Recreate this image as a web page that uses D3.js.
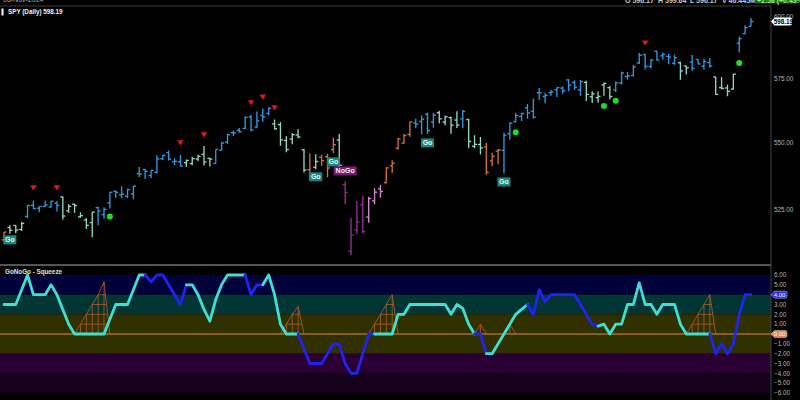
<!DOCTYPE html>
<html><head><meta charset="utf-8">
<script src="https://cdn.jsdelivr.net/npm/d3@7"></script>
<style>html,body{margin:0;padding:0;background:#000;overflow:hidden}svg{display:block}</style>
</head><body>
<svg id="c" width="800" height="400"></svg>
<script>
// ---------------- DATA (dividend-adjusted daily bars, as plotted) ----------------
const dates = [
"May 9","May 10","May 13","May 14","May 15","May 16","May 17","May 20","May 21","May 22","May 23","May 24","May 28","May 29","May 30","May 31",
"Jun 3","Jun 4","Jun 5","Jun 6","Jun 7","Jun 10","Jun 11","Jun 12","Jun 13","Jun 14","Jun 17","Jun 18","Jun 20","Jun 21","Jun 24","Jun 25","Jun 26","Jun 27","Jun 28",
"Jul 1","Jul 2","Jul 3","Jul 5","Jul 8","Jul 9","Jul 10","Jul 11","Jul 12","Jul 15","Jul 16","Jul 17","Jul 18","Jul 19","Jul 22","Jul 23","Jul 24","Jul 25","Jul 26","Jul 29","Jul 30","Jul 31",
"Aug 1","Aug 2","Aug 5","Aug 6","Aug 7","Aug 8","Aug 9","Aug 12","Aug 13","Aug 14","Aug 15","Aug 16","Aug 19","Aug 20","Aug 21","Aug 22","Aug 23","Aug 26","Aug 27","Aug 28","Aug 29","Aug 30",
"Sep 3","Sep 4","Sep 5","Sep 6","Sep 9","Sep 10","Sep 11","Sep 12","Sep 13","Sep 16","Sep 17","Sep 18","Sep 19","Sep 20","Sep 23","Sep 24","Sep 25","Sep 26","Sep 27","Sep 30",
"Oct 1","Oct 2","Oct 3","Oct 4","Oct 7","Oct 8","Oct 9","Oct 10","Oct 11","Oct 14","Oct 15","Oct 16","Oct 17","Oct 18","Oct 21","Oct 22","Oct 23","Oct 24","Oct 25","Oct 28","Oct 29","Oct 30","Oct 31",
"Nov 1","Nov 4","Nov 5","Nov 6","Nov 7","Nov 8"];

const open = [
513.98,518.41,519.16,517.71,522.43,526.48,525.41,526.17,525.88,527.25,529.56,524.45,526.87,522.28,521.12,520.19,
525.62,523.06,527.37,531.58,530.26,529.78,530.67,538.23,539.75,537.48,538.68,543.76,546.04,542.70,542.63,542.29,541.99,543.67,545.46,
543.93,542.00,546.99,550.07,553.74,554.56,555.37,559.74,555.93,560.33,561.17,557.10,556.81,550.72,551.30,552.84,547.16,539.65,540.58,544.32,544.56,547.28,
550.87,534.05,509.94,517.52,526.77,522.21,528.11,532.51,534.83,541.15,547.80,549.72,553.03,557.45,558.07,560.86,557.83,561.48,557.79,559.51,558.61,559.07,
558.77,548.50,549.19,548.24,542.95,546.66,547.00,553.31,558.01,560.04,563.40,562.04,569.31,567.84,569.34,570.48,571.14,574.38,573.39,570.42,
573.40,567.71,567.36,572.35,571.30,570.42,573.16,575.77,576.05,581.22,584.59,579.78,585.91,584.07,583.85,581.05,581.26,579.98,581.51,582.58,579.85,581.29,575.56,
571.32,571.18,570.74,589.20,593.08,596.17];
const high = [
516.81,519.24,519.27,520.43,526.68,528.12,526.12,528.16,528.12,527.98,529.67,526.87,527.11,523.91,521.80,524.10,
525.91,525.75,531.29,532.02,533.49,532.59,533.61,540.72,539.93,539.41,545.13,545.22,546.88,543.95,545.25,543.50,544.54,545.26,548.58,
544.18,547.31,550.13,553.35,554.55,555.48,559.97,560.63,561.97,563.14,563.46,558.81,557.82,552.38,553.57,555.04,547.47,545.76,545.49,545.35,545.64,551.80,
553.17,535.29,521.88,528.05,529.89,529.59,532.81,534.03,540.58,543.26,551.66,553.32,557.91,559.14,560.41,561.48,561.39,562.21,560.36,559.95,561.98,562.50,
559.11,552.73,552.10,549.90,546.01,547.45,553.66,557.70,561.33,561.41,564.88,566.99,571.18,569.31,570.33,571.36,571.89,574.71,574.22,574.38,
574.06,569.90,569.80,573.36,571.96,573.78,577.71,577.58,580.33,585.27,584.90,582.83,586.12,585.39,584.85,584.50,581.71,580.06,584.46,582.71,582.91,583.32,575.63,
575.55,572.50,576.74,591.93,596.65,599.64];
const low = [
513.31,516.19,516.34,517.16,521.78,525.14,523.92,525.77,525.67,524.20,521.32,523.71,523.71,521.97,517.93,514.96,
519.20,521.56,525.33,529.28,529.14,529.17,528.65,536.90,536.19,536.45,538.21,543.33,543.08,541.32,540.92,540.74,541.33,542.91,541.25,
540.82,541.95,546.95,549.42,552.49,553.82,555.07,554.13,555.45,557.93,560.40,554.91,548.73,546.21,549.32,551.58,538.59,535.75,539.79,541.02,536.82,545.88,
537.73,526.90,508.57,516.17,516.35,520.14,526.86,529.25,534.58,538.42,547.18,549.56,552.16,555.63,553.03,553.28,555.59,557.35,556.62,553.34,555.48,555.44,
547.81,547.76,545.40,537.74,540.98,541.68,538.26,551.04,557.75,558.20,559.09,559.13,566.38,565.17,568.10,567.60,568.91,569.90,570.42,568.08,
566.00,565.27,565.49,568.10,566.63,569.53,572.55,574.49,575.91,580.73,578.54,578.96,582.16,582.58,580.60,580.38,574.42,576.57,578.08,580.52,578.43,579.29,568.44,
570.62,567.89,570.52,585.39,593.00,596.17];
const close = [
516.77,517.44,517.51,519.90,526.38,525.29,526.05,526.66,527.96,526.43,522.56,526.04,526.41,522.70,519.21,523.97,
524.40,524.99,531.27,531.26,530.61,532.26,533.55,537.96,539.05,539.38,543.70,545.09,543.60,542.81,541.04,543.13,543.81,544.67,542.52,
543.64,547.31,549.76,552.94,553.58,554.12,559.62,554.78,558.29,559.83,563.16,555.24,550.96,547.29,552.95,552.08,539.53,536.71,542.74,543.06,540.30,549.11,
541.31,531.20,515.68,520.45,516.96,528.95,531.29,531.57,540.34,542.05,551.37,552.61,557.91,557.00,558.92,554.52,560.43,559.09,559.86,556.60,556.65,561.98,
550.38,549.25,547.91,538.66,544.71,547.09,552.72,557.39,560.31,561.14,561.37,559.70,569.28,568.25,569.67,571.30,570.04,572.30,571.47,573.76,
568.62,568.86,567.82,572.98,567.80,573.17,577.14,575.95,579.58,584.32,579.78,582.30,582.35,584.59,583.63,583.32,577.99,579.24,579.04,580.83,581.77,580.01,568.64,
571.04,569.81,576.70,591.04,595.61,598.19];

// GoNoGo trend per bar: G=Go, W=weak Go, A=amber, P=weak NoGo, N=NoGo
const trend = ("A"+"WWW"+"GGGGGG"+"WWWWWW"+"GGGGGGGGGGGGGGG"+"WWWWW"+"GGGGGGGGGG"+"WWWWWW"+
  "A"+"W"+"AAA"+"W"+"NNNN"+"PPP"+"AAAAA"+"GGGG"+"WWWW"+"G"+"WWW"+"AAA"+
  "GGGGGGGGGGGGGG"+"WWWWW"+"GGGGGGGGGGG"+"WW"+"GGGG"+"WWWW"+"GGG").split("");

// oscillator values per bar
const osc = [
3,3,3,4.5,6,4,4,4,5,4,
2.5,1,0,0,0,0,0,0,1.5,3,
3,3,4.5,6,6,5.3,6,6,5,4,
3,5,5,4,2.5,1.3,3.5,5,6,6,
6,6,4,5,5,6,4,1,0,0,
0,-1.5,-3,-3,-3,-2,-1,-1,-3,-4,
-4,-2,0,0,0,0,0,2,2,3,
3,3,3,3,3,3,2,3,2.6,1,
0,0,-2,-2,-1,0,1,2,2.5,3,
2,4.5,3.3,4,4,4,4,4,3,2,
1,0.8,1,0,1,1,3,3,5.2,3,
3,2,3,3,3,1,0,0,0,0,
0,-2,-1,-2,-1,2,4,4];
// heavy-volume (blue) oscillator segments, 1 = blue
const oscHeavy = ("0000000000000000000000000"+"1111111"+"0000000000"+"111"+"000000"+
  "1111111111111"+"00000000000000000"+"11"+"0000000"+"111111111111"+
  "0000000000000000000"+"1111111").split("").map(Number);

// squeeze grids: start bar and heights
const sqStart = [12, 47, 62, 80, 85, 116];
const sqHeights = [[0,1,2,3,4,5.3,0],[0,1,2,2.8,0],[0,1,2,3,4,0],[0,1,0],[0,1,0],[0,1,2,3,4,0]];

// markers (bar index, price level)
const redIdx = [5, 9, 30, 34, 42, 44, 46, 109];
const redPrice = [532.9, 532.9, 549.8, 552.9, 565.3, 567.6, 563.3, 589.3];
const dotIdx = [18, 87, 102, 104, 125];
const dotPrice = [522.4, 553.9, 564.1, 566.1, 581.2];
const goIdx = [1, 53, 56, 72, 85];
const goPrice = [514.0, 537.0, 542.6, 549.8, 535.1];
const noGoIdx = [58];
const noGoPrice = [539.2];

const priceTicks = [525, 550, 575, 600];
const oscTicks = [6,5,4,3,2,1,0,-1,-2,-3,-4,-5,-6];
const bands = [[6,4,"#00003a"],[4,2,"#033535"],[2,-2,"#313100"],[-2,-4,"#2a0034"],[-4,-6,"#15001b"]];

// ---------------- CHART ----------------
const svg = d3.select("#c");
const W = 800, AX = 771;
const font = "'Liberation Sans', Arial, sans-serif";
svg.append("rect").attr("width", W).attr("height", 400).attr("fill", "#000");

const x = d3.scalePoint().domain(dates).range([4, 751]);
const yP = d3.scaleLog().domain([500, 600]).range([279.6, 17.1]);
const yO = d3.scaleLinear().domain([-6, 6]).range([393, 275]);
const fmt = d3.format(".2f");

const defs = svg.append("defs");
defs.append("clipPath").attr("id","cp").append("rect").attr("x",0).attr("y",7).attr("width",AX).attr("height",257);
defs.append("clipPath").attr("id","co").append("rect").attr("x",0).attr("y",266).attr("width",AX).attr("height",134);

// ---- oscillator panel background bands
const gO = svg.append("g").attr("clip-path","url(#co)");
gO.selectAll("rect.band").data(bands).join("rect")
  .attr("x",0).attr("width",AX)
  .attr("y",d=>yO(d[0])).attr("height",d=>yO(d[1])-yO(d[0]))
  .attr("fill",d=>d[2]);
gO.append("line").attr("x1",0).attr("x2",AX).attr("y1",yO(0)).attr("y2",yO(0))
  .attr("stroke","#e58a3c").attr("stroke-width",1);

// squeeze grids
const sqColor = "#c8692a";
sqStart.forEach((s,j)=>{
  const h = sqHeights[j];
  const pts = h.map((v,k)=>[x(dates[s+k]), yO(v)]);
  const g = gO.append("g").attr("stroke",sqColor).attr("stroke-width",0.8).attr("fill","none").attr("opacity",0.85);
  g.append("path").attr("d", d3.line()(pts));
  h.forEach((v,k)=>{ if(v>0) g.append("line").attr("x1",pts[k][0]).attr("x2",pts[k][0]).attr("y1",yO(0)).attr("y2",yO(v)); });
  const mx = d3.max(h);
  for(let L=1; L<=Math.floor(mx); L++){
    let xl=null, xr=null;
    for(let k=1;k<h.length;k++){ if(h[k]>=L && h[k-1]<L){ const t=(L-h[k-1])/(h[k]-h[k-1]); xl=pts[k-1][0]+t*(pts[k][0]-pts[k-1][0]); break; } }
    for(let k=h.length-2;k>=0;k--){ if(h[k]>=L && h[k+1]<L){ const t=(h[k]-L)/(h[k]-h[k+1]); xr=pts[k][0]+t*(pts[k+1][0]-pts[k][0]); break; } }
    if(xl!==null && xr!==null) g.append("line").attr("x1",xl).attr("x2",xr).attr("y1",yO(L)).attr("y2",yO(L));
  }
});

// oscillator line in color runs
const cyan = "#3fe0d2", blue = "#2323ee";
let runs = [], cur = null;
for(let i=1;i<osc.length;i++){
  const c = oscHeavy[i] ? blue : cyan;
  if(!cur || cur.c!==c){ cur = {c, pts:[[x(dates[i-1]), yO(osc[i-1])]]}; runs.push(cur); }
  cur.pts.push([x(dates[i]), yO(osc[i])]);
}
gO.selectAll("path.osc").data(runs).join("path").attr("class","osc")
  .attr("d",d=>d3.line()(d.pts)).attr("fill","none").attr("stroke",d=>d.c)
  .attr("stroke-width",2.8).attr("stroke-linejoin","round").attr("stroke-linecap","round");

gO.append("text").attr("x",5).attr("y",273.5).attr("fill","#e0e0e0")
  .attr("font-family",font).attr("font-size",6.3).attr("font-weight","bold").text("GoNoGo - Squeeze");

// ---- price panel
const gP = svg.append("g").attr("clip-path","url(#cp)");
const col = {G:"#2f9ae0", W:"#93d6c2", A:"#d2703e", P:"#d48ac8", N:"#9a2c98"};
const bars = gP.selectAll("g.bar").data(dates).join("g").attr("class","bar")
  .attr("stroke",(d,i)=>col[trend[i]]).attr("stroke-width",1.35);
bars.append("line").attr("x1",d=>x(d)).attr("x2",d=>x(d))
  .attr("y1",(d,i)=>yP(high[i])).attr("y2",(d,i)=>yP(low[i]));
bars.append("line").attr("x1",d=>x(d)-2.5).attr("x2",d=>x(d))
  .attr("y1",(d,i)=>yP(open[i])).attr("y2",(d,i)=>yP(open[i]));
bars.append("line").attr("x1",d=>x(d)).attr("x2",d=>x(d)+2.5)
  .attr("y1",(d,i)=>yP(close[i])).attr("y2",(d,i)=>yP(close[i]));

// red triangles
gP.selectAll("path.tri").data(redIdx).join("path").attr("class","tri")
  .attr("d",(d,j)=>{const cx=x(dates[d]), cy=yP(redPrice[j]); return `M${cx-3.2},${cy-2.6}L${cx+3.2},${cy-2.6}L${cx},${cy+2.6}Z`;})
  .attr("fill","#e31a1a");
// green dots
gP.selectAll("circle.dot").data(dotIdx).join("circle").attr("class","dot")
  .attr("cx",d=>x(dates[d])).attr("cy",(d,j)=>yP(dotPrice[j])).attr("r",3).attr("fill","#1fe01f");
// Go / NoGo labels
function tag(idxs, prices, txt, w, bg){
  const g = gP.selectAll(null).data(idxs).join("g")
    .attr("transform",(d,j)=>`translate(${x(dates[d])},${yP(prices[j])})`);
  g.append("rect").attr("x",-w/2).attr("y",-4.5).attr("width",w).attr("height",9).attr("fill",bg);
  g.append("text").attr("text-anchor","middle").attr("y",2.4).attr("fill","#f2f2f2")
    .attr("font-family",font).attr("font-size",7).attr("font-weight","bold").text(txt);
}
tag(goIdx, goPrice, "Go", 13, "#178a80");
tag(noGoIdx, noGoPrice, "NoGo", 23, "#7c1a72");

// ---- frame lines
svg.append("line").attr("x1",0).attr("x2",AX).attr("y1",6).attr("y2",6).attr("stroke","#3c3c3c").attr("stroke-width",1.2);
svg.append("line").attr("x1",0).attr("x2",AX).attr("y1",265).attr("y2",265).attr("stroke","#555").attr("stroke-width",2);
svg.append("line").attr("x1",AX).attr("x2",AX).attr("y1",6).attr("y2",400).attr("stroke","#444").attr("stroke-width",1);

// ---- price axis
svg.selectAll("text.pt").data(priceTicks).join("text").attr("class","pt")
  .attr("x",774).attr("y",d=>yP(d)).attr("dy","0.35em").attr("fill","#b8b8b8")
  .attr("font-family",font).attr("font-size",6.3).text(d=>fmt(d));
const last = close[close.length-1], ly = yP(last);
svg.append("path").attr("d",`M771,${ly}L774.5,${ly-4}L790,${ly-4}Q792,${ly-4} 792,${ly-2}L792,${ly+2}Q792,${ly+4} 790,${ly+4}L774.5,${ly+4}Z`)
  .attr("fill","#fff");
svg.append("text").attr("x",783.5).attr("y",ly).attr("dy","0.36em").attr("text-anchor","middle")
  .attr("font-family",font).attr("font-size",6.3).attr("font-weight","bold").attr("fill","#000").text(fmt(last));

// ---- oscillator axis
svg.selectAll("text.ot").data(oscTicks).join("text").attr("class","ot")
  .attr("x",774).attr("y",d=>yO(d)).attr("dy","0.35em").attr("fill","#b8b8b8")
  .attr("font-family",font).attr("font-size",6.3).text(d=>fmt(d));
function axTag(v, bg){
  const yy = yO(v);
  svg.append("path").attr("d",`M771,${yy}L774.5,${yy-3.6}L785,${yy-3.6}Q787,${yy-3.6} 787,${yy-1.6}L787,${yy+1.6}Q787,${yy+3.6} 785,${yy+3.6}L774.5,${yy+3.6}Z`)
    .attr("fill",bg).attr("stroke","#fff").attr("stroke-width",0.4);
  svg.append("text").attr("x",779.5).attr("y",yy).attr("dy","0.36em").attr("text-anchor","middle")
    .attr("font-family",font).attr("font-size",6).attr("fill","#fff").text(fmt(v));
}
axTag(osc[osc.length-1], "#2b2bf0");
axTag(0, "#e0874a");

// ---- header texts
svg.append("text").attr("x",3).attr("y",2).attr("fill","#aaa").attr("font-family",font).attr("font-size",7).text("08-Nov-2024");
svg.append("rect").attr("x",1.5).attr("y",8.5).attr("width",2).attr("height",7).attr("fill","#fff");
svg.append("text").attr("x",8).attr("y",14.3).attr("fill","#f0f0f0").attr("font-family",font)
  .attr("font-size",6.3).attr("font-weight","bold").text("SPY (Daily) " + fmt(last));
const hdr = [["O", 596.17, 625],["H", 599.64, 658],["L", 596.17, 690]];
hdr.forEach(h=>svg.append("text").attr("x",h[2]).attr("y",2.6).attr("fill","#ccc").attr("font-family",font)
  .attr("font-size",7).attr("font-weight","bold").text(h[0]+" "+fmt(h[1])));
svg.append("text").attr("x",722).attr("y",2.6).attr("fill","#ccc").attr("font-family",font)
  .attr("font-size",7).attr("font-weight","bold").text("V 46.445M");
svg.append("rect").attr("x",755).attr("y",-5).attr("width",43).attr("height",8.5).attr("fill","#1c6a1c");
svg.append("text").attr("x",757).attr("y",2.6).attr("fill","#8cf08c").attr("font-family",font)
  .attr("font-size",7).attr("font-weight","bold").text("+2.58 (+0.43%)");
</script>
</body></html>
